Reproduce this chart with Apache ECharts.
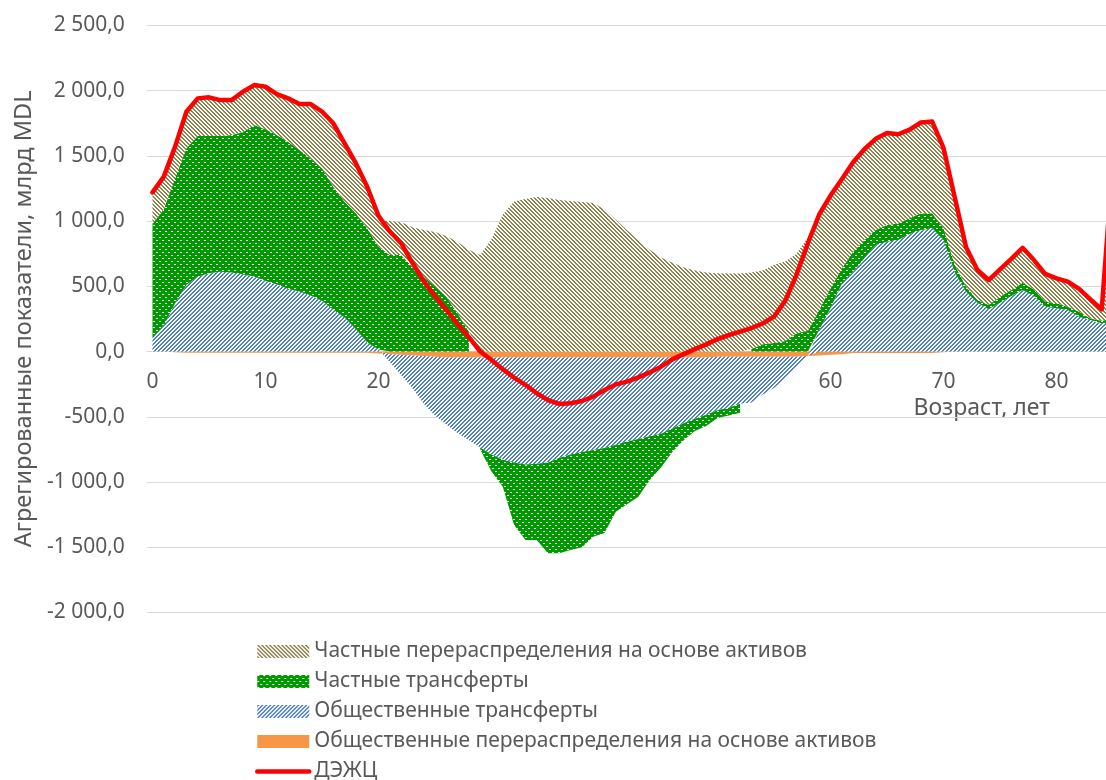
<!DOCTYPE html>
<html><head><meta charset="utf-8">
<script src="https://cdn.jsdelivr.net/npm/echarts@6/dist/echarts.min.js"></script>
<style>html,body{margin:0;padding:0;background:#fff}#c{width:1106px;height:780px}</style>
</head><body><div id="c"></div>
<script>
// Age categories (years)
const ages = [0,1,2,3,4,5,6,7,8,9,10,11,12,13,14,15,16,17,18,19,20,21,22,23,24,25,26,27,28,29,
  30,31,32,33,34,35,36,37,38,39,40,41,42,43,44,45,46,47,48,49,50,51,52,53,54,55,56,57,58,59,
  60,61,62,63,64,65,66,67,68,69,70,71,72,73,74,75,76,77,78,79,80,81,82,83,84,85];

// Общественные перераспределения на основе активов
const publicAssets = [0,0,-5,-10,-10,-10,-10,-10,-10,-10,
  -10,-10,-10,-10,-10,-10,-10,-10,-10,-10,
  -15,-20,-25,-30,-35,-40,-45,-45,-45,-45,
  -45,-45,-45,-45,-45,-45,-45,-45,-45,-45,
  -45,-45,-45,-45,-45,-45,-45,-45,-45,-45,
  -40,-40,-40,-40,-40,-40,-40,-40,-35,-30,
  -25,-20,-12,-12,-12,-12,-12,-12,-12,-12,
  -5,0,0,0,0,0,0,0,0,0,
  0,0,0,0,0,0];
// Общественные трансферты
const publicTransfers = [100,200,370,510,573,600,612,605,590,575,
  540,515,480,460,430,390,320,260,170,70,
  15,-60,-155,-250,-365,-450,-515,-580,-635,-690,
  -745,-785,-805,-820,-815,-805,-770,-745,-725,-710,
  -695,-670,-645,-625,-605,-585,-545,-505,-470,-440,
  -410,-390,-360,-350,-290,-240,-170,-80,0,165,
  331,520,610,714,816,841,854,900,931,944,
  854,604,458,374,323,374,425,471,425,343,
  331,318,267,241,216,230];
// Частные трансферты (positive part)
const privateTransfersPos = [880,890,957,1047,1078,1051,1039,1055,1090,1161,
  1163,1144,1128,1084,1050,1014,943,888,889,874,
  788,740,740,650,573,502,420,293,152,null,
  null,null,null,null,null,null,null,null,null,null,
  null,null,null,null,null,null,null,null,null,null,
  null,null,null,20,55,65,80,140,160,153,
  153,117,155,140,115,128,128,121,128,115,
  90,59,39,21,33,46,46,56,51,39,
  38,25,38,13,20,20];
// Частные трансферты (negative part)
const privateTransfersNeg = [null,null,null,null,null,null,null,null,null,null,
  null,null,null,null,null,null,null,null,null,null,
  null,null,null,null,null,null,null,null,null,-15,
  -130,-206,-480,-580,-585,-696,-731,-731,-730,-665,
  -650,-512,-480,-442,-335,-258,-180,-130,-95,-85,
  -60,-60,-70,null,null,null,null,null,null,null,
  null,null,null,null,null,null,null,null,null,null,
  null,null,null,null,null,null,null,null,null,null,
  null,null,null,null,null,null];
// Частные перераспределения на основе активов
const privateAssets = [238,250,243,290,300,305,285,275,320,315,
  335,325,340,360,425,445,495,455,390,330,
  200,260,250,303,358,413,465,546,626,740,
  860,1050,1150,1168,1184,1176,1161,1153,1146,1138,
  1090,1010,930,850,780,720,680,645,620,605,
  600,598,598,585,565,600,610,610,715,762,
  736,703,697,708,711,718,695,691,708,715,
  621,517,323,230,192,210,249,276,224,208,
  191,192,175,146,87,1220];
// ДЭЖЦ
const lcd = [1220,1340,1570,1838,1940,1948,1927,1927,1991,2042,
  2029,1973,1940,1897,1897,1838,1749,1595,1442,1263,
  1040,920,830,680,540,425,320,210,110,0,
  -65,-135,-200,-255,-320,-372,-402,-397,-379,-346,
  -295,-252,-231,-198,-160,-116,-60,-20,18,55,
  95,125,152,180,215,267,390,590,830,1050,
  1195,1320,1450,1550,1630,1675,1665,1700,1755,1762,
  1560,1180,800,625,548,630,710,795,701,595,
  560,535,480,400,323,1470];

const NAMES = {
  pa: 'Частные перераспределения на основе активов',
  pt: 'Частные трансферты',
  gt: 'Общественные трансферты',
  ga: 'Общественные перераспределения на основе активов',
  l: 'ДЭЖЦ'
};
const FONT = 'Noto Sans';
const TXT = '#595959';
const Y_MIN = -2000, Y_MAX = 2500;
const GRID_TOP = 25.3, GRID_H = 587.2;

function makePattern(w, h, bg, fg, test) {
  const c = document.createElement('canvas');
  c.width = w; c.height = h;
  const g = c.getContext('2d');
  g.fillStyle = bg; g.fillRect(0, 0, w, h);
  g.fillStyle = fg;
  for (let y = 0; y < h; y++) for (let x = 0; x < w; x++) if (test(x, y)) g.fillRect(x, y, 1, 1);
  return { image: c, repeat: 'repeat' };
}
const brownPat = makePattern(4, 4, '#ffffff', '#8E8450', (x, y) => ((x - y + 8) % 4) < 2);
const bluePat = makePattern(4, 4, '#ffffff', '#4F81BD', (x, y) => ((x + y) % 4) < 2);
const greenPat = makePattern(6, 6, '#009900', '#ffffff',
  (x, y) => (y === 0 && (x === 0 || x === 1)) || (y === 3 && (x === 3 || x === 4)));

function fmt(v) {
  const s = Math.abs(v).toFixed(1).split('.');
  const int = s[0].replace(/\B(?=(\d{3})+(?!\d))/g, ' ');
  return (v < 0 ? '-' : '') + int + ',' + s[1];
}
function area(name, arr, pat) {
  return {
    name, type: 'line', stack: 'total', data: arr,
    symbol: 'none', showSymbol: false, silent: true,
    lineStyle: { width: 0 }, itemStyle: { color: pat },
    areaStyle: { color: pat, opacity: 1 },
    emphasis: { disabled: true }
  };
}
// x axis drawn along the value 0 of the y axis (offset from grid bottom)
const zeroOffset = -GRID_H * (0 - Y_MIN) / (Y_MAX - Y_MIN);

const chart = echarts.init(document.getElementById('c'), null, { renderer: 'canvas' });
chart.setOption({
  animation: false,
  backgroundColor: '#ffffff',
  textStyle: { fontFamily: FONT, color: TXT },
  grid: { left: 146.85, top: GRID_TOP, width: 971.8, height: GRID_H, containLabel: false, outerBoundsMode: 'none' },
  xAxis: {
    type: 'category', data: ages, boundaryGap: true, offset: zeroOffset,
    axisLine: { onZero: false, lineStyle: { color: '#D9D9D9', width: 1 } },
    axisTick: { show: false },
    splitLine: { show: false },
    axisLabel: { interval: 9, color: TXT, fontSize: 21, margin: 20, fontFamily: FONT }
  },
  yAxis: {
    type: 'value', min: Y_MIN, max: Y_MAX, interval: 500,
    axisLine: { show: false }, axisTick: { show: false },
    splitLine: { lineStyle: { color: '#D9D9D9', width: 1 } },
    axisLabel: { formatter: fmt, color: TXT, fontSize: 21, margin: 22, fontFamily: FONT },
    name: 'Агрегированные показатели, млрд MDL', nameLocation: 'middle', nameGap: 110,
    nameTextStyle: { color: TXT, fontSize: 23.5, fontFamily: FONT }
  },
  graphic: [{
    type: 'text', right: 56, top: 397, silent: true,
    style: { text: 'Возраст, лет', fill: TXT, fontSize: 23, fontFamily: FONT }
  }],
  legend: {
    orient: 'vertical', left: 255, top: 641, height: 170, padding: 0,
    itemWidth: 52, itemHeight: 13, itemGap: 9, selectedMode: false,
    textStyle: { color: TXT, fontSize: 21, fontFamily: FONT },
    data: [
      { name: NAMES.pa, icon: 'rect' },
      { name: NAMES.pt, icon: 'rect' },
      { name: NAMES.gt, icon: 'rect' },
      { name: NAMES.ga, icon: 'rect' },
      { name: NAMES.l, itemStyle: { opacity: 0 }, lineStyle: { width: 4.5, color: '#FF0000', opacity: 1 } }
    ]
  },
  series: [
    area(NAMES.ga, publicAssets, '#F79646'),
    area(NAMES.gt, publicTransfers, bluePat),
    area(NAMES.pt, privateTransfersPos, greenPat),
    area(NAMES.pt, privateTransfersNeg, greenPat),
    area(NAMES.pa, privateAssets, brownPat),
    {
      name: NAMES.l, type: 'line', data: lcd, symbol: 'none', showSymbol: false, silent: true,
      lineStyle: { color: '#FF0000', width: 4.5, cap: 'round', join: 'round' },
      itemStyle: { color: '#FF0000' }, z: 5, emphasis: { disabled: true }
    }
  ]
});
</script></body></html>
